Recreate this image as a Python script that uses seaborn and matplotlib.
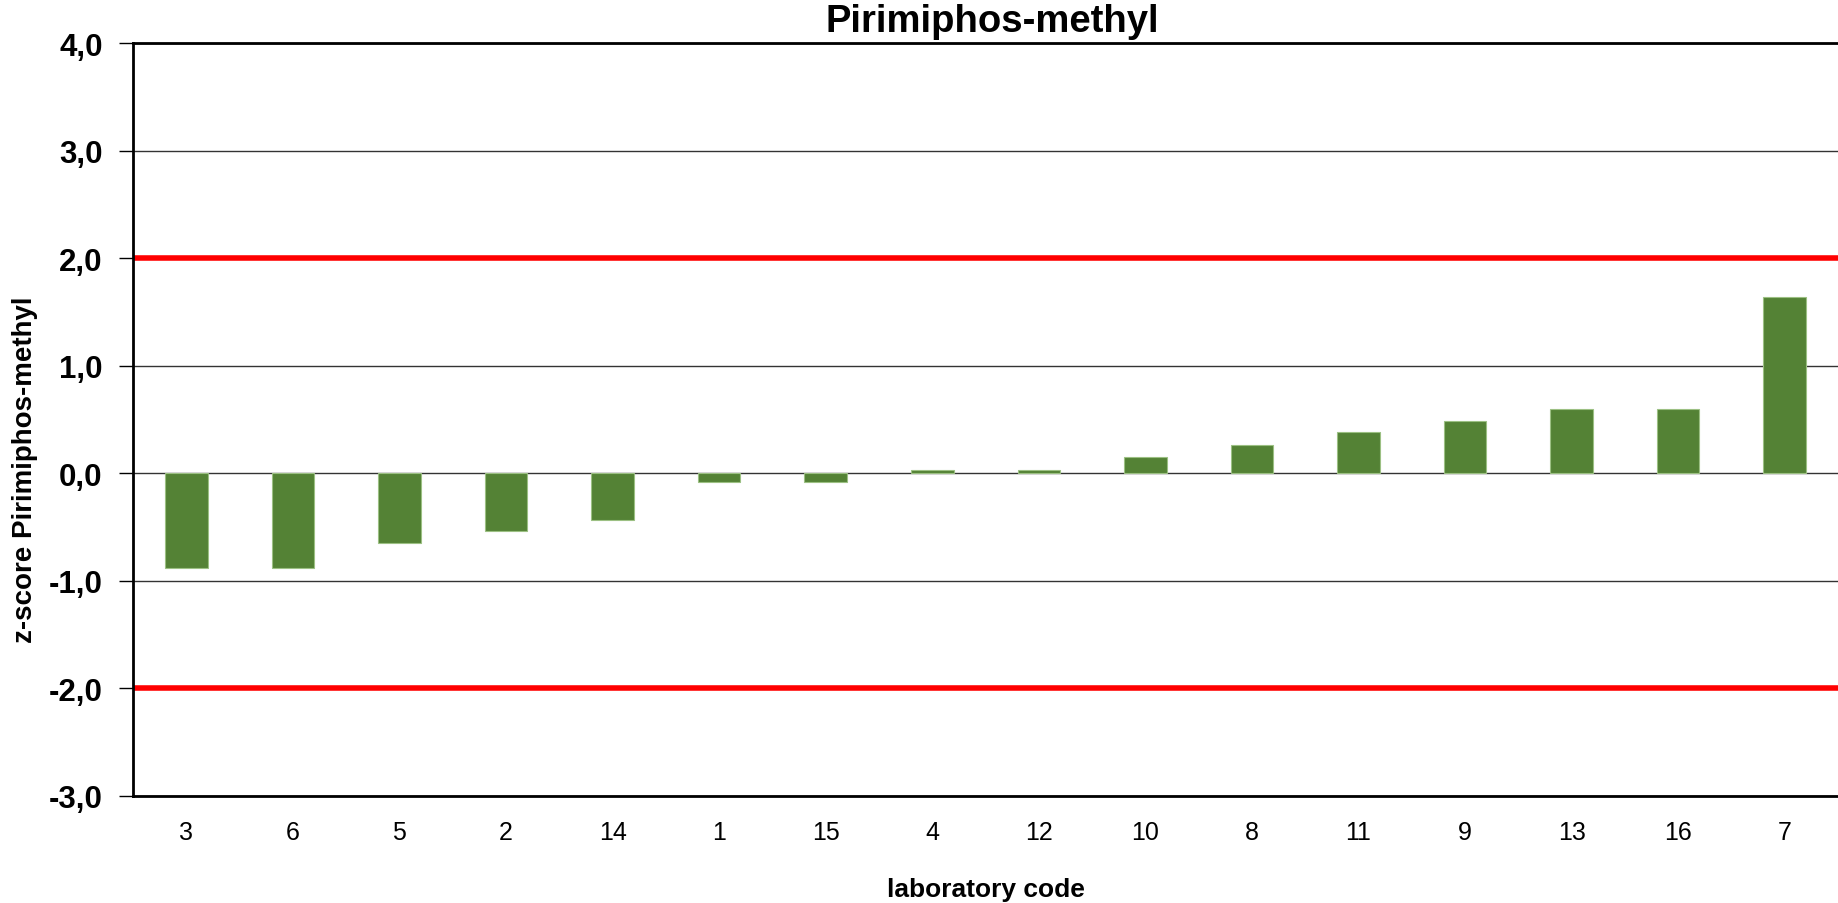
import matplotlib
matplotlib.use('Agg')
import matplotlib.pyplot as plt
import seaborn as sns
import pandas as pd

# laboratory codes, sorted by z-score as in the report
lab_codes = ['3', '6', '5', '2', '14', '1', '15', '4', '12', '10', '8', '11', '9', '13', '16', '7']
z_scores = [-0.88, -0.88, -0.65, -0.54, -0.43, -0.08, -0.08, 0.03, 0.03, 0.15, 0.26, 0.38, 0.49, 0.60, 0.60, 1.64]
limits = [2.0, -2.0]
y_ticks = [-3, -2, -1, 0, 1, 2, 3, 4]

df = pd.DataFrame({'lab': lab_codes, 'z': z_scores})

sns.set_theme(style='white')
plt.rcParams['font.family'] = ['Liberation Sans', 'DejaVu Sans']
plt.rcParams['text.color'] = 'black'
plt.rcParams['axes.labelcolor'] = 'black'
plt.rcParams['xtick.color'] = 'black'
plt.rcParams['ytick.color'] = 'black'

fig = plt.figure(figsize=(18.38, 9.04), dpi=100)
ax = fig.add_axes([0.0724, 0.1184, 0.9276, 0.8329])

# gridlines behind the bars
for t in y_ticks:
    ax.axhline(t, color='#333333', lw=1.0, zorder=0)

sns.barplot(data=df, x='lab', y='z', order=lab_codes, color='#548235',
            width=0.4, saturation=1, edgecolor='#9cc083', linewidth=0.8,
            ax=ax, zorder=2)

for lim in limits:
    ax.axhline(lim, color='#ff0000', lw=4, zorder=3)

ax.set_ylim(-3, 4)
ax.set_xlim(-0.5, len(lab_codes) - 0.5)
ax.set_yticks(y_ticks)
ax.set_yticklabels([f'{t:.1f}'.replace('.', ',') for t in y_ticks],
                   fontsize=22.5, fontweight='bold')
ax.tick_params(axis='y', left=True, length=10, width=1, color='black', pad=12)
ax.tick_params(axis='x', bottom=False, labelsize=18, pad=11)

for side in ['left', 'bottom', 'top']:
    ax.spines[side].set_color('black')
    ax.spines[side].set_linewidth(2)
    ax.spines[side].set_zorder(4)
ax.spines['right'].set_visible(False)

ax.set_title('Pirimiphos-methyl', fontsize=27.5, fontweight='bold', pad=9, x=0.504)
ax.set_xlabel('laboratory code', fontsize=19, fontweight='bold', labelpad=24)
ax.set_ylabel('z-score Pirimiphos-methyl', fontsize=20, fontweight='bold')
ax.yaxis.set_label_coords(-0.0557, 0.434)

fig.savefig('out.png', dpi=100)
